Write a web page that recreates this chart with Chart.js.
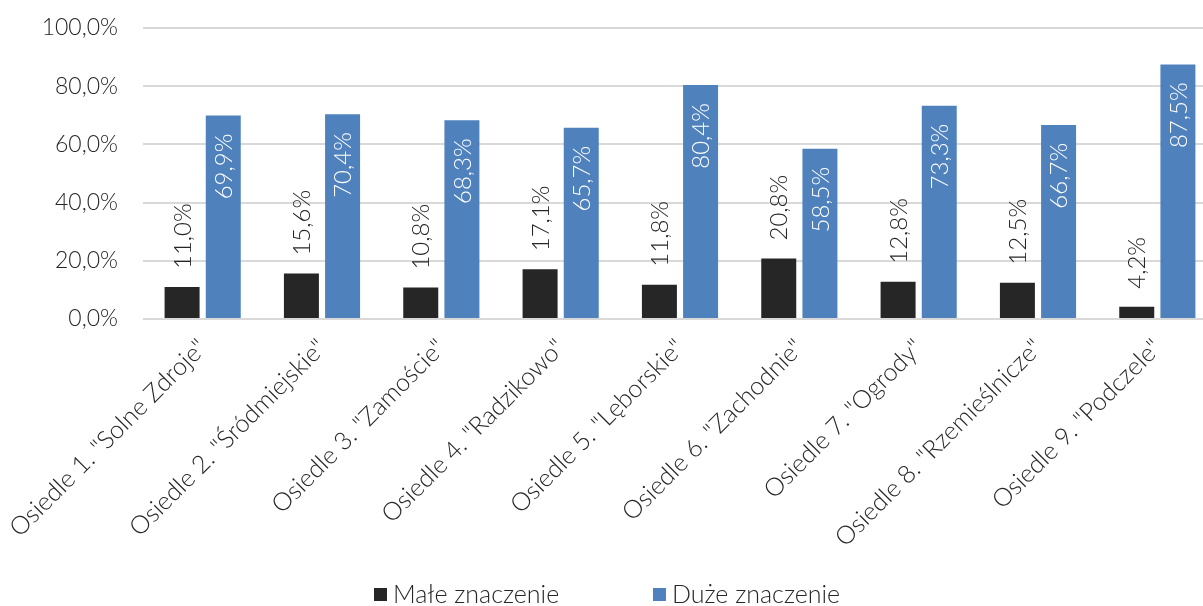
<!DOCTYPE html>
<html>
<head>
<meta charset="utf-8">
<script src="https://cdn.jsdelivr.net/npm/chart.js@4"></script>
<style>
  html, body { margin: 0; padding: 0; background: #fff; overflow: hidden; }
  #wrap { position: relative; width: 1217px; height: 606px; }
  #legend { position: absolute; top: 578px; left: 0; width: 1203px; font-family: Lato, sans-serif; font-weight: 300; font-size: 25px; color: #262626; }
  #legend span.item { position: absolute; top: 0; white-space: nowrap; }
  #legend i { display: inline-block; width: 13px; height: 13px; margin-right: 6px; vertical-align: 2px; }
</style>
</head>
<body>
<div id="wrap">
  <canvas id="chart" width="1217" height="606"></canvas>
  <div id="legend"></div>
</div>
<script>
    'use strict';

    // Data
    var categories = [
        'Osiedle 1. "Solne Zdroje"',
        'Osiedle 2. "Śródmiejskie"',
        'Osiedle 3. "Zamoście"',
        'Osiedle 4. "Radzikowo"',
        'Osiedle 5. "Lęborskie"',
        'Osiedle 6. "Zachodnie"',
        'Osiedle 7. "Ogrody"',
        'Osiedle 8. "Rzemieślnicze"',
        'Osiedle 9. "Podczele"'
    ];
    var seriesNames = ['Małe znaczenie', 'Duże znaczenie'];
    var smallImportance = [11.0, 15.6, 10.8, 17.1, 11.8, 20.8, 12.8, 12.5, 4.2];
    var bigImportance = [69.9, 70.4, 68.3, 65.7, 80.4, 58.5, 73.3, 66.7, 87.5];
    var yTicks = [0, 20, 40, 60, 80, 100];

    var colors = {
        dark: '#262626',
        blue: '#4f81bd',
        grid: '#d9d9d9',
        text: '#262626'
    };
    var fontFamily = "Lato, 'Open Sans', sans-serif";

    function pct(v) {
        return v.toFixed(1).replace('.', ',') + '%';
    }

    // Rotated value labels: above the dark bars, inside the top of the blue bars
    var barLabels = {
        id: 'barLabels',
        afterDatasetsDraw: function(chart) {
            var ctx = chart.ctx;
            chart.data.datasets.forEach(function(ds, i) {
                chart.getDatasetMeta(i).data.forEach(function(bar, j) {
                    ctx.save();
                    ctx.translate(bar.x, bar.y);
                    ctx.rotate(-Math.PI / 2);
                    ctx.font = '300 24px ' + fontFamily;
                    ctx.textBaseline = 'middle';
                    if (i === 0) {
                        ctx.textAlign = 'left';
                        ctx.fillStyle = colors.text;
                        ctx.fillText(pct(ds.data[j]), 18, 1);
                    } else {
                        ctx.textAlign = 'right';
                        ctx.fillStyle = '#ffffff';
                        ctx.fillText(pct(ds.data[j]), -18, 1);
                    }
                    ctx.restore();
                });
            });
        }
    };

    var ctx = document.getElementById('chart').getContext('2d');
    new Chart(ctx, {
        type: 'bar',
        data: {
            labels: categories,
            datasets: [{
                label: seriesNames[0],
                data: smallImportance,
                backgroundColor: colors.dark,
                categoryPercentage: 0.69,
                barPercentage: 0.85
            }, {
                label: seriesNames[1],
                data: bigImportance,
                backgroundColor: colors.blue,
                categoryPercentage: 0.69,
                barPercentage: 0.85
            }]
        },
        options: {
            responsive: false,
            animation: false,
            layout: { padding: { top: 28, right: 0, bottom: 0, left: 0 } },
            plugins: {
                legend: { display: false },
                tooltip: { enabled: false }
            },
            scales: {
                x: {
                    grid: { display: false },
                    border: { display: false },
                    ticks: {
                        color: colors.text,
                        font: { family: fontFamily, size: 25, weight: '300' },
                        maxRotation: 45,
                        minRotation: 45,
                        autoSkip: false,
                        padding: 6
                    },
                    afterFit: function(scale) { scale.height = 287; }
                },
                y: {
                    min: 0,
                    max: 100,
                    afterBuildTicks: function(scale) {
                        scale.ticks = yTicks.map(function(v) { return { value: v }; });
                    },
                    grid: { color: colors.grid, lineWidth: 2, drawTicks: false },
                    border: { display: false },
                    ticks: {
                        color: colors.text,
                        font: { family: fontFamily, size: 23, weight: '300' },
                        padding: 25,
                        callback: function(v) { return pct(v); }
                    },
                    afterFit: function(scale) {
                        scale.width = 143;
                        scale.paddingTop = 0;
                        scale.paddingBottom = 0;
                    }
                }
            }
        },
        plugins: [barLabels]
    });

    // Legend below the chart
    var legendEl = document.getElementById('legend');
    var legendX = [374, 653];
    seriesNames.forEach(function(name, i) {
        var item = document.createElement('span');
        item.className = 'item';
        item.style.left = legendX[i] + 'px';
        item.innerHTML = '<i style="background:' + (i === 0 ? colors.dark : colors.blue) + '"></i>' + name;
        legendEl.appendChild(item);
    });
</script>
</body>
</html>
